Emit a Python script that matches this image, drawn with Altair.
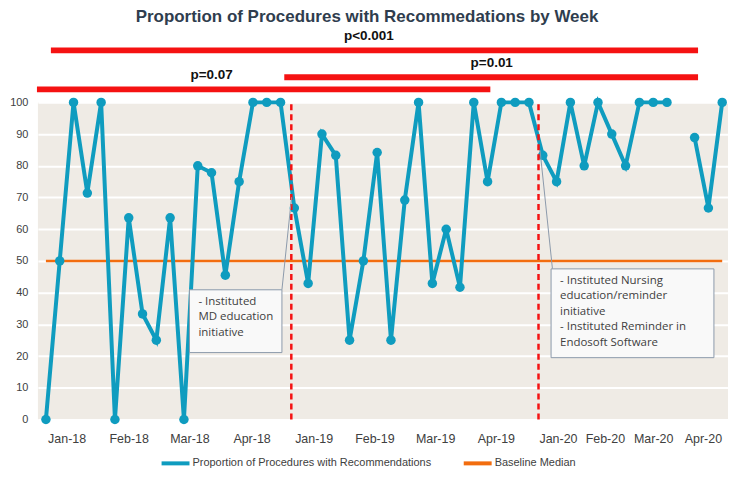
import altair as alt
import pandas as pd

# ---------------- data ----------------
week_index = list(range(50))
proportion = [0, 50, 100, 71.4, 100, 0, 63.6, 33.3, 25, 63.6,
              0, 80, 77.8, 45.5, 75, 100, 100, 100, 66.7, 42.9,
              90, 83.3, 25, 50, 84.2, 25, 69.2, 100, 42.9, 60,
              41.7, 100, 75, 100, 100, 100, 83.3, 75, 100, 80,
              100, 90, 80, 100, 100, 100, None, 88.9, 66.7, 100]
baseline_median = 50

tick_positions = [1.5, 6.0, 10.4, 14.9, 19.4, 23.8, 28.2, 32.6, 37.1, 40.5, 44.0, 47.6]
tick_labels = ["Jan-18", "Feb-18", "Mar-18", "Apr-18", "Jan-19", "Feb-19",
               "Mar-19", "Apr-19", "Jan-20", "Feb-20", "Mar-20", "Apr-20"]
y_ticks = [0, 10, 20, 30, 40, 50, 60, 70, 80, 90, 100]

intervention_week = [17.78, 35.69]

sig_labels = ["p<0.001", "p=0.01", "p=0.07"]
sig_start = [0.36, 17.27, -0.65]
sig_end = [47.25, 47.25, 32.2]
sig_level = [116.4, 107.9, 104.1]
sig_label_x = [23.4, 32.3, 12.0]

note_texts = [["- Instituted", "MD education", "initiative"],
              ["- Instituted Nursing", "education/reminder", "initiative",
               "- Instituted Reminder in", "Endosoft Software"]]
note_left = [10.4, 36.6]
note_right = [17.1, 48.4]
note_top = [40.9, 47.5]
note_bottom = [21.1, 19.5]
note_target = [[17.8, 70.1], [35.8, 84.9]]
note_anchor = [[17.1, 40.9], [36.7, 47.5]]

S1 = "Proportion of Procedures with Recommendations"
S2 = "Baseline Median"
TEAL = "#0f9cbf"
ORANGE = "#f26d0f"
RED = "#f51212"
NARROW = "Liberation Sans Narrow, Arial Narrow, Liberation Sans, Arial"

# ---------------- tables ----------------
seg = []
s = 0
for v in proportion:
    if v is None:
        s += 1
    seg.append(s)
series_df = pd.DataFrame({"week": week_index, "value": proportion,
                          "segment": seg, "series": S1})
series_df = series_df.dropna()
median_df = pd.DataFrame({"week": [week_index[0], week_index[-1]],
                          "value": [baseline_median] * 2, "series": S2})
interv_df = pd.DataFrame({"x": intervention_week})
sig_df = pd.DataFrame({"label": sig_labels, "x": sig_start, "x2": sig_end,
                       "y": sig_level, "tx": sig_label_x})
note_df = pd.DataFrame({"x": note_left, "x2": note_right, "y": note_top,
                        "y2": note_bottom, "text": note_texts,
                        "ax": [a[0] for a in note_anchor], "ay": [a[1] for a in note_anchor],
                        "tx": [t[0] for t in note_target], "ty": [t[1] for t in note_target]})

xs = alt.Scale(domain=[-0.58, 49.42], nice=False, zero=False)
ys = alt.Scale(domain=[0, 100], nice=False)

label_expr = "[" + ",".join("'%s'" % t for t in tick_labels) + "][indexof([" + \
    ",".join(str(p) for p in tick_positions) + "], datum.value)]"

x_axis = alt.Axis(values=tick_positions, labelExpr=label_expr, title=None,
                  domain=False, ticks=False, grid=False, labelPadding=13,
                  labelFontSize=12.5, labelColor="#404040", labelFont=NARROW,
                  labelOverlap=False, labelFlush=False)
y_axis = alt.Axis(values=y_ticks, title=None, domain=False,
                  ticks=False, grid=True, gridColor="white", gridWidth=2,
                  gridOpacity=1, labelOverlap=False,
                  labelPadding=10, labelFontSize=11, labelColor="#404040",
                  labelFont="Liberation Sans, Arial")


def X(field):
    return alt.X(field, type="quantitative", scale=xs, axis=x_axis, title=None)


def Y(field):
    return alt.Y(field, type="quantitative", scale=ys, axis=y_axis, title=None)


color = alt.Color("series:N", scale=alt.Scale(domain=[S1, S2], range=[TEAL, ORANGE]),
                  legend=alt.Legend(title=None, orient="none", direction="horizontal",
                                    legendX=122, legendY=346,
                                    symbolType="stroke", symbolSize=784,
                                    symbolStrokeWidth=4, labelFont=NARROW,
                                    labelFontSize=11, labelColor="#404040",
                                    labelLimit=400, columnPadding=24, labelOffset=1))

median_line = alt.Chart(median_df).mark_line(strokeWidth=2.5).encode(
    x=X("week"), y=Y("value"), color=color)
series_line = alt.Chart(series_df).mark_line(strokeWidth=4).encode(
    x=X("week"), y=Y("value"), color=color, detail="segment:N")
series_pts = alt.Chart(series_df).mark_circle(size=90, opacity=1, color=TEAL).encode(
    x=X("week"), y=Y("value"))

sig_bars = alt.Chart(sig_df).mark_rule(color=RED, strokeWidth=6, strokeCap="butt").encode(
    x=X("x"), x2="x2:Q", y=Y("y"))
sig_text = alt.Chart(sig_df).mark_text(fontSize=13.5, fontWeight="bold", font=NARROW,
                                       color="#111111", dy=-14).encode(
    x=X("tx"), y=Y("y"), text="label:N")

interv = alt.Chart(interv_df).mark_rule(color=RED, strokeWidth=2.5, strokeDash=[6, 4]).encode(
    x=X("x"), y=alt.datum(0, scale=ys, axis=y_axis), y2=alt.datum(100))

connectors = alt.Chart(note_df).mark_rule(color="#8c9aab", strokeWidth=1).encode(
    x=X("ax"), y=Y("ay"), x2="tx:Q", y2="ty:Q")
boxes = alt.Chart(note_df).mark_rect(fill="#f9f9f9", stroke="#8c9aab", strokeWidth=1).encode(
    x=X("x"), x2="x2:Q", y=Y("y"), y2="y2:Q")
box_text = alt.Chart(note_df).mark_text(align="left", baseline="top", fontSize=11.5,
                                        font="Open Sans", color="#404040", lineHeight=15.5,
                                        dx=9, dy=6).encode(
    x=X("x"), y=Y("y"), text="text")

chart = alt.layer(median_line, series_line, series_pts, sig_bars, sig_text, interv,
                  connectors, boxes, box_text).properties(
    width=692, height=318,
    autosize=alt.AutoSizeParams(type="none"),
    padding={"left": 30, "top": 94, "right": 0, "bottom": 48},
    background="white",
    title=alt.TitleParams("Proportion of Procedures with Recommedations by Week",
                          fontSize=17, fontWeight="bold", font=NARROW, color="#2f3d4e",
                          anchor="middle", frame="group", dx=-16, offset=3),
).configure_view(fill="#efebe5", stroke=None)

chart.save("out.html", embed_options={"renderer": "svg", "actions": False})
